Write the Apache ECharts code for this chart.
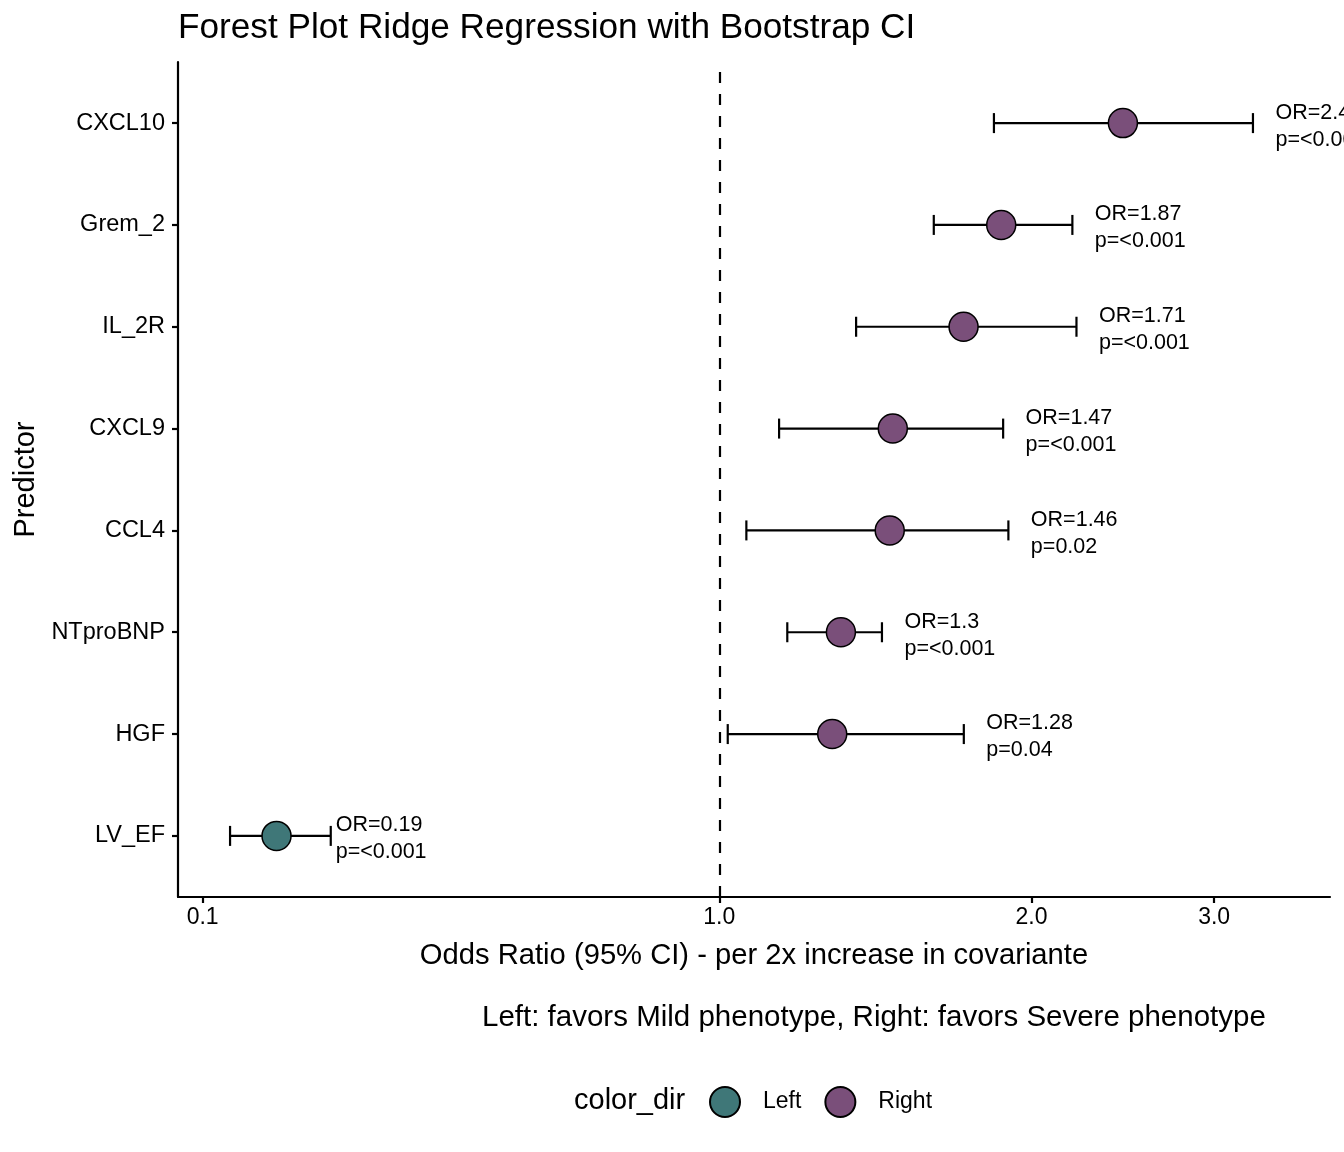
<!DOCTYPE html>
<html lang="en">
<head>
    <meta charset="UTF-8">
    <title>Forest Plot Ridge Regression with Bootstrap CI</title>
    <script src="https://cdn.jsdelivr.net/npm/echarts@6.0.0/dist/echarts.min.js"></script>
    <style>
        html, body { margin: 0; padding: 0; background: #fff; }
        #chart { width: 1344px; height: 1152px; }
    </style>
</head>
<body>
<div id="chart"></div>
<script>
    // rows from top to bottom
    const predictors = ['CXCL10', 'Grem_2', 'IL_2R', 'CXCL9', 'CCL4', 'NTproBNP', 'HGF', 'LV_EF'];
    const oddsRatio = [2.45, 1.87, 1.72, 1.47, 1.46, 1.31, 1.285, 0.139];
    const ciLow = [1.84, 1.61, 1.355, 1.142, 1.062, 1.163, 1.019, 0.113];
    const ciHigh = [3.27, 2.19, 2.21, 1.878, 1.90, 1.435, 1.721, 0.177];
    const orText = ['OR=2.45', 'OR=1.87', 'OR=1.71', 'OR=1.47', 'OR=1.46', 'OR=1.3', 'OR=1.28', 'OR=0.19'];
    const pText = ['p=<0.001', 'p=<0.001', 'p=<0.001', 'p=<0.001', 'p=0.02', 'p=<0.001', 'p=0.04', 'p=<0.001'];
    const direction = ['Right', 'Right', 'Right', 'Right', 'Right', 'Right', 'Right', 'Left'];

    const xTickValues = [0.1, 1, 2, 3];
    const xTickLabels = ['0.1', '1.0', '2.0', '3.0'];
    const xRange = [0.0896, 3.88];

    const dirColors = {Left: '#3F7778', Right: '#7A4F7A'};

    // the axis below 1 is squeezed, as in the original picture
    const K_LEFT = 0.4981;
    function toAxis(or) {
        const l = Math.log(or);
        return l < 0 ? l * K_LEFT : l;
    }

    const n = predictors.length;
    const rowY = i => n - i;

    const chart = echarts.init(document.getElementById('chart'));

    const barData = predictors.map((p, i) => [toAxis(ciLow[i]), toAxis(ciHigh[i]), rowY(i)]);
    const pointData = dir => predictors.map((p, i) => direction[i] === dir ? {
        name: p, value: [toAxis(oddsRatio[i]), rowY(i)]
    } : null).filter(d => d);
    // text sits a little right of the upper CI end
    const labelData = predictors.map((p, i) => ({
        name: p,
        value: [toAxis(ciHigh[i] * (ciHigh[i] < 1 ? 1.02 : 1.05)), rowY(i)],
        text: orText[i] + '\n' + pText[i]
    }));

    const axisTickValues = xTickValues.map(toAxis);

    const option = {
        animation: false,
        textStyle: {fontFamily: 'Liberation Sans', color: '#000'},
        title: [{
            text: 'Forest Plot Ridge Regression with Bootstrap CI',
            left: 178, top: 11, padding: 0,
            textStyle: {fontSize: 35.2, fontWeight: 'normal', color: '#000'}
        }, {
            text: 'Left: favors Mild phenotype, Right: favors Severe phenotype',
            left: 482, top: 1003, padding: 0,
            textStyle: {fontSize: 29.5, fontWeight: 'normal', color: '#000'}
        }],
        graphic: [{
            type: 'text', left: 574, top: 1086,
            style: {text: 'color_dir', fontSize: 29, fill: '#000', fontFamily: 'Liberation Sans'}
        }],
        legend: {
            data: ['Left', 'Right'],
            left: 709, top: 1086,
            itemWidth: 30, itemHeight: 30, itemGap: 23,
            padding: 0,
            textStyle: {fontSize: 23, color: '#000', padding: [0, 0, 0, 18]}
        },
        grid: {left: 178, right: 14, top: 62, bottom: 255, containLabel: false, outerBoundsMode: 'none'},
        xAxis: {
            type: 'value',
            min: toAxis(xRange[0]),
            max: toAxis(xRange[1]),
            name: 'Odds Ratio (95% CI) - per 2x increase in covariante',
            nameLocation: 'middle',
            nameGap: 44,
            nameTextStyle: {fontSize: 29.2, color: '#000'},
            axisLine: {show: true, onZero: false, lineStyle: {color: '#000', width: 2.2}},
            axisTick: {show: true, length: 6, lineStyle: {color: '#000', width: 2.2}, customValues: axisTickValues},
            axisLabel: {
                fontSize: 23, color: '#000', margin: 9,
                customValues: axisTickValues,
                formatter: v => {
                    const k = axisTickValues.findIndex(t => Math.abs(t - v) < 1e-6);
                    return k >= 0 ? xTickLabels[k] : '';
                }
            },
            splitLine: {show: false}
        },
        yAxis: {
            type: 'value',
            min: 0.4,
            max: n + 0.6,
            name: 'Predictor',
            nameLocation: 'middle',
            nameGap: 138,
            nameRotate: 90,
            nameTextStyle: {fontSize: 29, color: '#000'},
            axisLine: {show: true, onZero: false, lineStyle: {color: '#000', width: 2.2}},
            axisTick: {show: true, length: 6, lineStyle: {color: '#000', width: 2.2}, customValues: predictors.map((p, i) => rowY(i))},
            axisLabel: {
                fontSize: 23.5, color: '#000', margin: 13,
                customValues: predictors.map((p, i) => rowY(i)),
                formatter: v => predictors[n - Math.round(v)]
            },
            splitLine: {show: false}
        },
        series: [{
            type: 'custom',
            name: 'CI',
            data: barData,
            encode: {x: [0, 1], y: 2},
            z: 2,
            renderItem: (params, api) => {
                const y = api.value(2);
                const a = api.coord([api.value(0), y]);
                const b = api.coord([api.value(1), y]);
                const h = 10;
                const st = {stroke: '#000', lineWidth: 2.2};
                return {
                    type: 'group',
                    children: [
                        {type: 'line', shape: {x1: a[0], y1: a[1], x2: b[0], y2: b[1]}, style: st},
                        {type: 'line', shape: {x1: a[0], y1: a[1] - h, x2: a[0], y2: a[1] + h}, style: st},
                        {type: 'line', shape: {x1: b[0], y1: b[1] - h, x2: b[0], y2: b[1] + h}, style: st}
                    ]
                };
            },
            markLine: {
                silent: true,
                symbol: 'none',
                label: {show: false},
                lineStyle: {color: '#000', width: 2.2, type: [11, 11]},
                data: [{xAxis: toAxis(1)}]
            }
        }, {
            type: 'scatter',
            name: 'Left',
            data: pointData('Left'),
            symbol: 'circle',
            symbolSize: 29,
            z: 3,
            itemStyle: {color: dirColors.Left, borderColor: '#000', borderWidth: 1.5, opacity: 1}
        }, {
            type: 'scatter',
            name: 'Right',
            data: pointData('Right'),
            symbol: 'circle',
            symbolSize: 29,
            z: 3,
            itemStyle: {color: dirColors.Right, borderColor: '#000', borderWidth: 1.5, opacity: 1}
        }, {
            type: 'scatter',
            name: 'labels',
            data: labelData,
            symbolSize: 1,
            silent: true,
            z: 4,
            itemStyle: {color: 'rgba(0,0,0,0)'},
            label: {
                show: true,
                position: 'right',
                distance: 0,
                offset: [0, 3],
                fontSize: 21.5,
                lineHeight: 27,
                color: '#000000',
                opacity: 1,
                textBorderWidth: 0,
                align: 'left',
                formatter: p => p.data.text
            }
        }]
    };

    chart.setOption(option);
    window.onresize = chart.resize;
</script>
</body>
</html>
